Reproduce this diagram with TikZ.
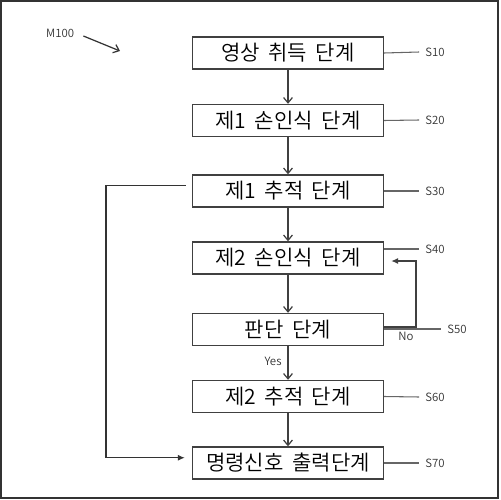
\documentclass[tikz,border=0pt]{standalone}
\usepackage{fontspec}
\setmainfont{Noto Sans CJK KR}[UprightFont=* DemiLight,WordSpace=1.8]
\usetikzlibrary{calc,arrows.meta}
\tikzset{
  stepbox/.style={draw=black!75,line width=0.8pt,minimum width=3.82cm,minimum height=0.64cm,inner sep=0pt,font=\fontsize{12}{12}\selectfont},
  tag/.style={font=\fontsize{6.5}{7}\selectfont,text=black!80},
  flow/.style={draw=black!75,line width=0.7pt,-{Straight Barb[length=3pt,width=5pt]}},
  lead/.style={draw=black!60,line width=0.6pt}
}

\begin{document}
\begin{tikzpicture}[x=0.02cm,y=-0.02cm]
  \useasboundingbox (0,0) rectangle (500,500);
  \draw[line width=1pt,black!80] (1,1) rectangle (498,498);

  \node[stepbox] (b1) at (288,53)    {영상 취득 단계};
  \node[stepbox] (b2) at (288,120.5) {제1 손인식 단계};
  \node[stepbox] (b3) at (288,191)   {제1 추적 단계};
  \node[stepbox] (b4) at (288,258)   {제2 손인식 단계};
  \node[stepbox] (b5) at (288,329.5) {판단 단계};
  \node[stepbox] (b6) at (288,396.5) {제2 추적 단계};
  \node[stepbox] (b7) at (288,463)   {명령신호 출력단계};

  \draw[flow] (b1) -- (b2);
  \draw[flow] (b2) -- (b3);
  \draw[flow] (b3) -- (b4);
  \draw[flow] (b4) -- (b5);
  \draw[flow] (b5) -- node[tag,left,pos=0.45] (yes) {Yes} (b6);
  \draw[flow] (b6) -- (b7);

  % step numbers
  \node[tag] (s10) at (435,52)  {S10};
  \node[tag] (s20) at (435,120) {S20};
  \node[tag] (s30) at (435,191) {S30};
  \node[tag] (s40) at (435,249) {S40};
  \node[tag] (s50) at (457,329) {S50};
  \node[tag] (s60) at (435,397) {S60};
  \node[tag] (s70) at (435,463) {S70};
  \draw[lead] (b1.east) -- (s10.west);
  \draw[lead] (b2.east) -- (s20.west);
  \draw[lead] (b3.east) -- (s30.west);
  \draw[lead] (b4.east |- s40) -- (s40.west);
  \draw[lead] (b5.east |- s50) -- (s50.west);
  \draw[lead] (b6.east) -- (s60.west);
  \draw[lead] (b7.east) -- (s70.west);

  % No loop back
  \coordinate (nx) at (416,327);
  \draw[draw=black!75,line width=0.7pt,-{Latex[length=4pt,width=3.5pt]},shorten >=4pt]
    (b5.east |- nx) -- (nx) -- (nx |- 0,261) -- (b4.east |- 0,261);
  \node[tag] (no) at (406,336) {No};

  % feedback from first tracking
  \coordinate (fb) at (106,0);
  \draw[draw=black!80,line width=0.7pt,-{Latex[length=4pt,width=3.5pt]},shorten <=3.5pt,shorten >=4pt]
    ([yshift=3pt]b3.west) -- ([yshift=3pt]b3.west -| fb) -- ([yshift=3pt]b7.west -| fb) -- ([yshift=3pt]b7.west);

  \node[tag,anchor=west] (m100) at (40,33) {M100};
  \draw[line width=0.7pt,black!80,-{Straight Barb[length=3pt,width=5pt]}] (m100.east) ++(3,3) -- (120,51);
\end{tikzpicture}
\end{document}
